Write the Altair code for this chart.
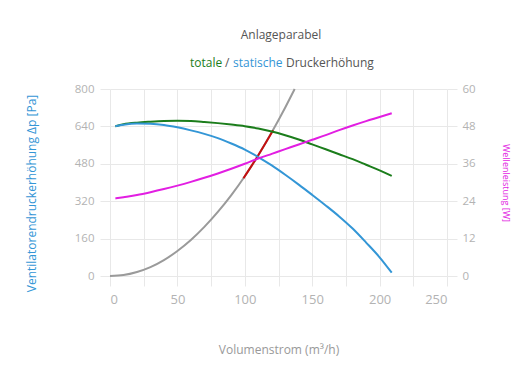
import altair as alt
import pandas as pd

FONT = "Open Sans"

# ---- data ----
fan_v = [4, 10, 20, 30, 40, 50, 60, 70, 80, 90, 100, 110, 120, 130, 140, 150, 160, 170, 180, 190, 200, 209]
total_p = [641, 649, 656, 660, 663, 664, 663, 659, 654, 648, 641, 631, 618, 602, 584, 563, 542, 521, 500, 476, 452, 428]
static_p = [641, 647, 652, 651, 646, 636, 623, 608, 590, 567, 541, 509, 473, 433, 391, 347, 302, 255, 203, 143, 80, 14]
power_w = [24.9, 25.3, 26.0, 26.9, 27.9, 29.0, 30.2, 31.5, 32.9, 34.4, 36.0, 37.7, 39.2, 40.7, 42.2, 43.7,
           45.2, 46.8, 48.3, 49.7, 51.0, 52.2]

system_v = [0, 10, 20, 30, 40, 50, 60, 70, 80, 90, 100, 110, 120, 130, 137]
system_p = [0, 4, 17, 38, 68, 107, 154, 210, 274, 346, 427, 517, 615, 721, 800]

range_v = [99, 105, 110, 115, 121]
range_p = [418, 471, 517, 565, 624]

x_ticks = [0, 25, 50, 75, 100, 125, 150, 175, 200, 225, 250]
y_left_ticks = [0, 160, 320, 480, 640, 800]
y_right_ticks = [0, 12, 24, 36, 48, 60]

title_text = "Anlageparabel"
subtitle_parts = ["totale", "/", "statische", "Druckerhöhung"]
x_title = "Volumenstrom (m³/h)"
y_left_title = "Ventilatorendruckerhöhung Δp [Pa]"
y_right_title = "Wellenleistung [W]"

GREEN = "#1b7d1b"
BLUE = "#3396d6"
PINK = "#e21ee2"
GRAY = "#9a9a9a"
RED = "#c41010"
LABEL = "#b3b3b3"
GRID = "#e8e8e8"

rows = []
for v, p in zip(system_v, system_p):
    rows.append({"series": "anlage", "v": v, "p": p})
for v, p in zip(range_v, range_p):
    rows.append({"series": "bereich", "v": v, "p": p})
for v, p in zip(fan_v, total_p):
    rows.append({"series": "totale", "v": v, "p": p})
for v, p in zip(fan_v, static_p):
    rows.append({"series": "statische", "v": v, "p": p})
left_df = pd.DataFrame(rows)
right_df = pd.DataFrame({"v": fan_v, "w": power_w})

X = alt.X("v:Q", scale=alt.Scale(domain=[0, 250], nice=False, zero=False),
          axis=alt.Axis(values=x_ticks, labelExpr="datum.value % 50 == 0 ? datum.label : ''",
                        title=x_title, grid=True, gridColor=GRID, tickColor=GRID, tickSize=10,
                        domain=False, labelColor=LABEL, labelFontSize=13, labelPadding=7,
                        titleColor="#999999", titleFontSize=12, titleFontWeight="normal",
                        titlePadding=38, labelFont=FONT, titleFont=FONT))

YL = alt.Y("p:Q", scale=alt.Scale(domain=[0, 800], nice=False),
           axis=alt.Axis(values=y_left_ticks, title=y_left_title, grid=True, gridColor=GRID,
                         tickColor=GRID, tickSize=10, domain=False, labelColor=LABEL,
                         labelFontSize=11.5, labelPadding=6, titleColor=BLUE, titleFontSize=12,
                         titleFontWeight="normal", titlePadding=36, titleY=104,
                         labelFont=FONT, titleFont=FONT))

YR = alt.Y("w:Q", scale=alt.Scale(domain=[0, 60], nice=False),
           axis=alt.Axis(orient="right", values=y_right_ticks, title=y_right_title, grid=False,
                         tickColor=GRID, tickSize=10, domain=False, labelColor=LABEL,
                         labelFontSize=11.5, labelPadding=5, titleColor=PINK, titleFontSize=9,
                         titleFontWeight="normal", titlePadding=25, labelFont=FONT, titleFont=FONT))

base = alt.Chart(left_df).encode(x=X, y=YL)


def line(series, color):
    return base.transform_filter(alt.datum.series == series).mark_line(
        color=color, strokeWidth=2, interpolate="monotone")


left = alt.layer(line("anlage", GRAY), line("bereich", RED), line("totale", GREEN),
                 line("statische", BLUE))

right = alt.Chart(right_df).mark_line(color=PINK, strokeWidth=2, interpolate="monotone").encode(
    x=X, y=YR)

one = pd.DataFrame({"a": [0]})


def label(txt, x, y, color, size, align="left"):
    return alt.Chart(one).mark_text(align=align, baseline="middle", font=FONT, fontSize=size,
                                    color=color).encode(
        x=alt.value(x), y=alt.value(y), text=alt.value(txt))


texts = alt.layer(
    label(title_text, 171, -54, "#555555", 12, "center"),
    label(subtitle_parts[0], 80, -26, GREEN, 12),
    label(subtitle_parts[1], 115, -26, "#555555", 12),
    label(subtitle_parts[2], 123, -26, BLUE, 12),
    label(subtitle_parts[3], 176, -26, "#555555", 12),
)

chart = alt.layer(left, right, texts).resolve_scale(y="independent").properties(
    width=337, height=187,
    autosize=alt.AutoSizeParams(type="none"),
    padding={"left": 102, "top": 81, "right": 75, "bottom": 90},
).configure_view(stroke=None)

chart.save("out.html", embed_options={"renderer": "svg", "actions": False})
